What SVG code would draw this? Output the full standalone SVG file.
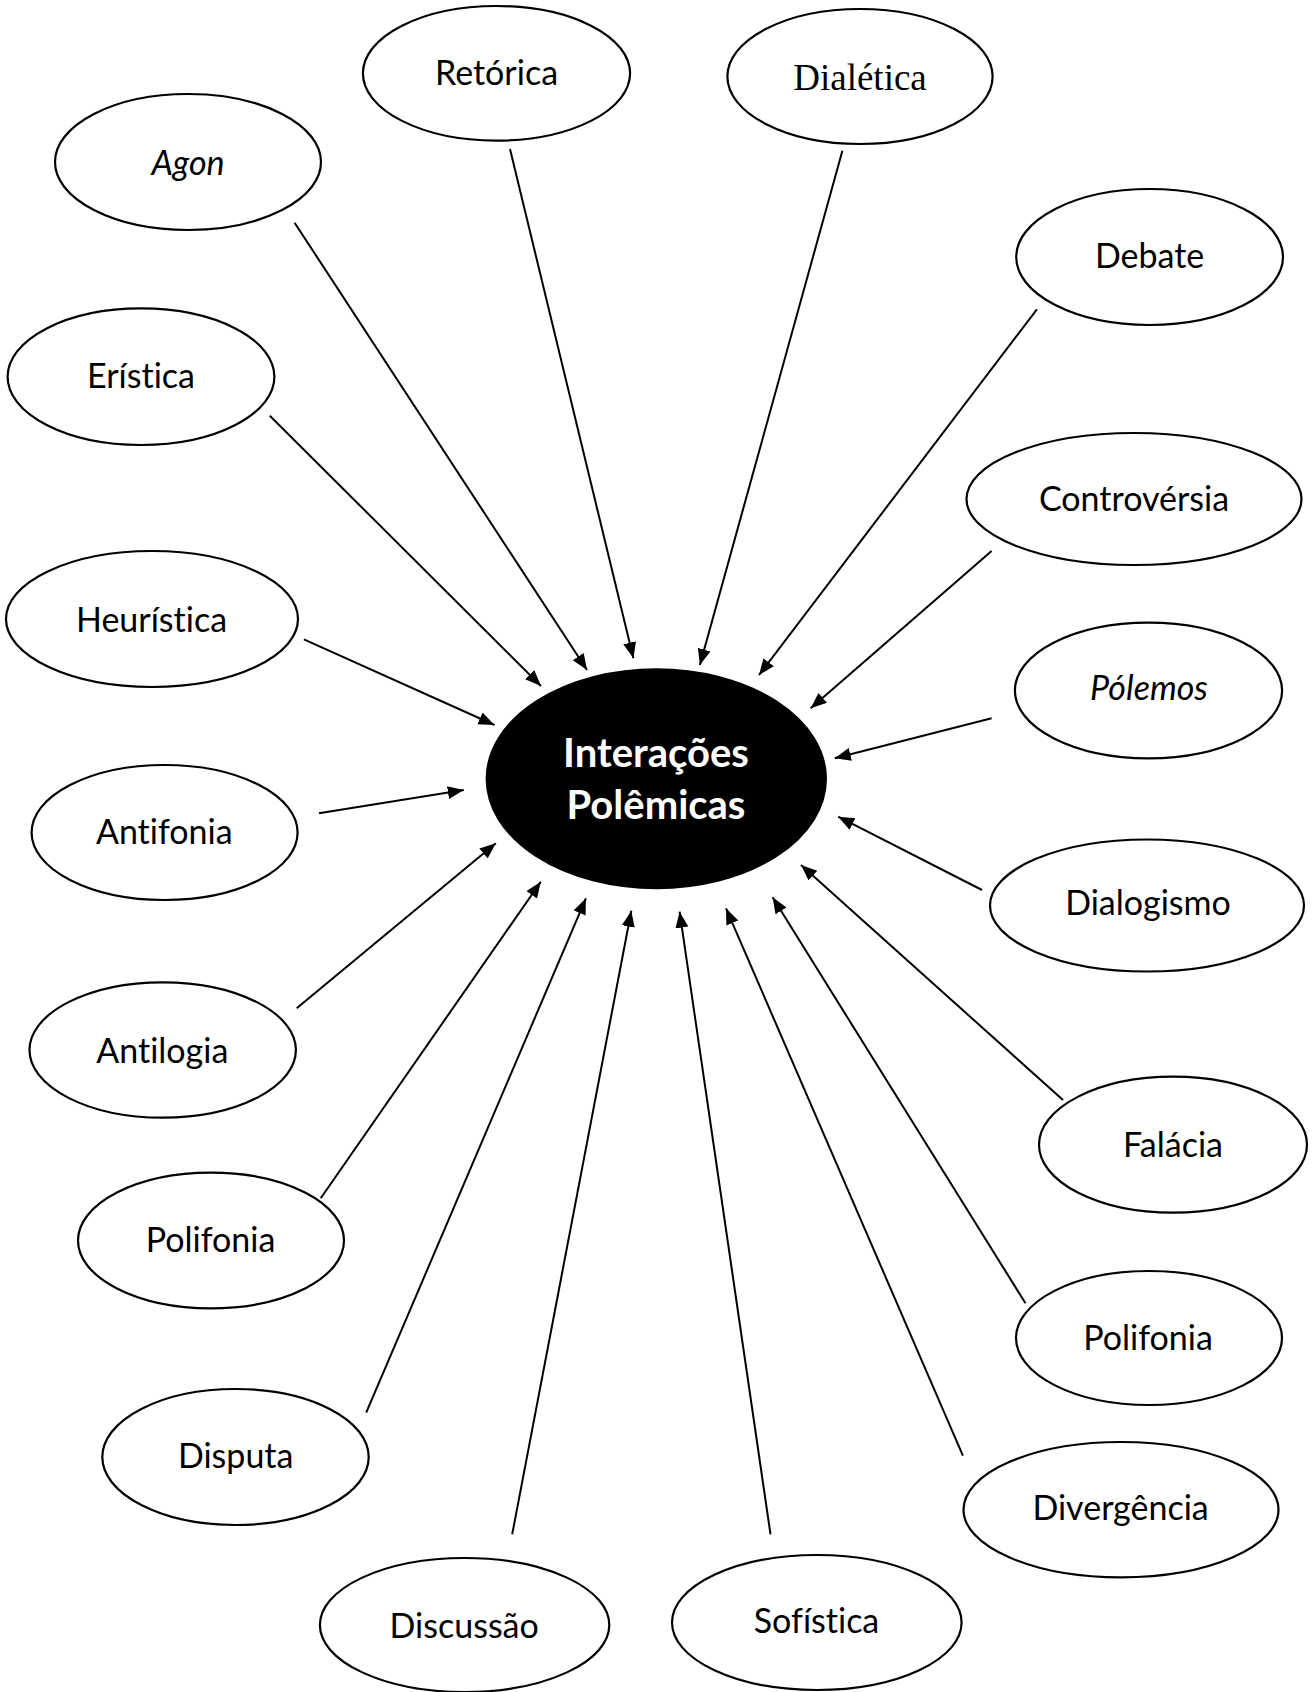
<svg xmlns="http://www.w3.org/2000/svg" width="1313" height="1692" viewBox="0 0 1313 1692">
  <style>
    .node ellipse { fill: #ffffff; stroke: #000000; stroke-width: 2.2; }
    .node text { font-family: Lato, "Liberation Sans", sans-serif; font-size: 34px; fill: #000000; text-anchor: middle; font-variant-ligatures: none; }
    .node text.it { font-style: italic; }
    .node text.serif { font-family: "Liberation Serif", serif; font-size: 37px; }
    #hub ellipse { fill: #000000; stroke: #000000; stroke-width: 2; }
    #hub text { font-family: Lato, "Liberation Sans", sans-serif; font-size: 40px; font-weight: bold; fill: #ffffff; text-anchor: middle; }
    #connectors line { stroke: #000000; stroke-width: 2; marker-end: url(#arrow); }
  </style>
  <defs>
    <marker id="arrow" markerUnits="userSpaceOnUse" markerWidth="18" markerHeight="14" refX="16" refY="6.5" orient="auto">
      <path d="M0,0 L16,6.5 L0,13 Z" fill="#000000"/>
    </marker>
  </defs>
  <rect width="1313" height="1692" fill="#ffffff"/>

  <!-- arrows pointing into the central concept -->
  <g id="connectors">
    <line x1="294.6" y1="222.7" x2="587" y2="670"/>
    <line x1="510" y1="149" x2="633.4" y2="658.3"/>
    <line x1="842.4" y1="150.7" x2="699.9" y2="665"/>
    <line x1="1036.9" y1="309.3" x2="759" y2="675"/>
    <line x1="991.6" y1="551" x2="810.7" y2="708.3"/>
    <line x1="991.6" y1="718.3" x2="834.8" y2="758.3"/>
    <line x1="982" y1="890" x2="838.2" y2="816.7"/>
    <line x1="1063" y1="1100" x2="801" y2="865"/>
    <line x1="1025.5" y1="1303.3" x2="772.6" y2="897.3"/>
    <line x1="962.9" y1="1455.7" x2="726" y2="908.3"/>
    <line x1="770.5" y1="1534.3" x2="679.6" y2="911.7"/>
    <line x1="512.2" y1="1534.3" x2="631.3" y2="910.7"/>
    <line x1="366.2" y1="1412.7" x2="585.9" y2="898.3"/>
    <line x1="320.7" y1="1198.3" x2="540.8" y2="881.7"/>
    <line x1="296.7" y1="1008.3" x2="495.8" y2="843.3"/>
    <line x1="319" y1="813.3" x2="463.8" y2="790"/>
    <line x1="303.9" y1="639.3" x2="494.5" y2="725"/>
    <line x1="269.8" y1="415.7" x2="541" y2="686"/>
  </g>

  <!-- central concept -->
  <g id="hub">
    <ellipse cx="656.3" cy="778.8" rx="169.7" ry="109.5"/>
    <text x="656" y="767">Interações</text>
    <text x="656" y="818.5">Polêmicas</text>
  </g>

  <!-- surrounding concepts -->
  <g id="n-retorica" class="node">
    <ellipse cx="496.5" cy="73.3" rx="133.6" ry="67.3"/>
    <text x="496.5" y="85">Retórica</text>
  </g>
  <g id="n-dialetica" class="node">
    <ellipse cx="860" cy="76.5" rx="132.6" ry="67.5"/>
    <text class="serif" x="860" y="90">Dialética</text>
  </g>
  <g id="n-agon" class="node">
    <ellipse cx="188" cy="162" rx="133" ry="68"/>
    <text class="it" x="188" y="175">Agon</text>
  </g>
  <g id="n-debate" class="node">
    <ellipse cx="1149.6" cy="257" rx="133.4" ry="68"/>
    <text x="1149.6" y="268.3">Debate</text>
  </g>
  <g id="n-eristica" class="node">
    <ellipse cx="141" cy="376.7" rx="133.4" ry="68.3"/>
    <text x="141" y="388">Erística</text>
  </g>
  <g id="n-controversia" class="node">
    <ellipse cx="1134" cy="499" rx="167.5" ry="66"/>
    <text x="1134" y="510.7">Controvérsia</text>
  </g>
  <g id="n-heuristica" class="node">
    <ellipse cx="152" cy="619" rx="146" ry="68"/>
    <text x="151.5" y="631.7">Heurística</text>
  </g>
  <g id="n-polemos" class="node">
    <ellipse cx="1148.5" cy="690.5" rx="133.6" ry="67.8"/>
    <text class="it" x="1149" y="700">Pólemos</text>
  </g>
  <g id="n-antifonia" class="node">
    <ellipse cx="164.6" cy="832.5" rx="133" ry="67.5"/>
    <text x="164.3" y="844.3">Antifonia</text>
  </g>
  <g id="n-dialogismo" class="node">
    <ellipse cx="1147" cy="905.5" rx="157" ry="66"/>
    <text x="1148" y="915">Dialogismo</text>
  </g>
  <g id="n-antilogia" class="node">
    <ellipse cx="162.7" cy="1050" rx="133.2" ry="67.7"/>
    <text x="162.3" y="1062.7">Antilogia</text>
  </g>
  <g id="n-falacia" class="node">
    <ellipse cx="1173" cy="1144.7" rx="134" ry="68"/>
    <text x="1173" y="1156.7">Falácia</text>
  </g>
  <g id="n-polifonia-l" class="node">
    <ellipse cx="211" cy="1240.5" rx="133" ry="67.8"/>
    <text x="210.5" y="1251.7">Polifonia</text>
  </g>
  <g id="n-polifonia-r" class="node">
    <ellipse cx="1149" cy="1338" rx="133" ry="67"/>
    <text x="1148" y="1350">Polifonia</text>
  </g>
  <g id="n-disputa" class="node">
    <ellipse cx="235.5" cy="1457" rx="133.2" ry="68"/>
    <text x="235.7" y="1468.3">Disputa</text>
  </g>
  <g id="n-divergencia" class="node">
    <ellipse cx="1121" cy="1509.7" rx="157.5" ry="67.7"/>
    <text x="1120.6" y="1520">Divergência</text>
  </g>
  <g id="n-discussao" class="node">
    <ellipse cx="464.6" cy="1625" rx="144.7" ry="67"/>
    <text x="464.2" y="1638.3">Discussão</text>
  </g>
  <g id="n-sofistica" class="node">
    <ellipse cx="816.8" cy="1622.5" rx="144.8" ry="67.5"/>
    <text x="816.5" y="1633.3">Sofística</text>
  </g>
</svg>
